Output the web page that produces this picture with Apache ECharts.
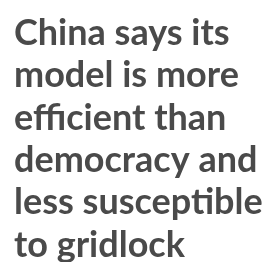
<!DOCTYPE html>
<html><head><meta charset="utf-8">
<script src="https://cdn.jsdelivr.net/npm/echarts@6/dist/echarts.min.js"></script>
<style>html,body{margin:0;padding:0;background:#fff}#c{width:276px;height:262px}</style>
</head><body><div id="c"></div>
<script>
const titleLines = ["China says its", "model is more", "efficient than", "democracy and", "less susceptible", "to gridlock"];
const chart = echarts.init(document.getElementById('c'), null, {renderer: 'canvas'});
chart.setOption({
  backgroundColor: '#ffffff',
  animation: false,
  title: {
    text: titleLines.join('\n'),
    left: 14,
    top: 12,
    padding: 0,
    textStyle: {
      fontFamily: 'Lato',
      fontWeight: 'bold',
      fontSize: 36,
      lineHeight: 42.4,
      color: '#4a4a4a'
    }
  }
});
</script></body></html>
